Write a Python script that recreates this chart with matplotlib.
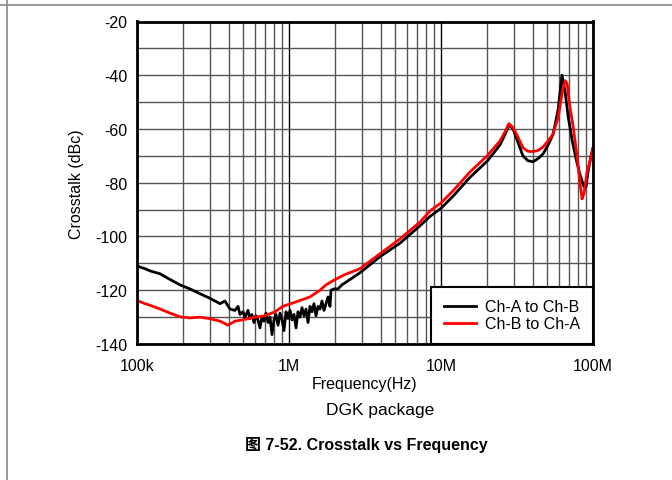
import numpy as np
import matplotlib.pyplot as plt
from matplotlib.lines import Line2D

plt.rcParams['font.family'] = ['Liberation Sans', 'Noto Sans CJK SC', 'DejaVu Sans']
plt.rcParams['axes.unicode_minus'] = False

# Ch-A to Ch-B (black), frequency in kHz
freq_ab = [100, 113, 122, 142, 165, 192, 223, 260, 302, 352, 379, 409, 441, 462, 476,
           498, 514, 537, 554, 571, 588, 606, 625, 644, 664, 685, 706, 728, 750, 773,
           797, 821, 847, 873, 900, 927, 956, 985, 1016, 1047, 1079, 1112, 1146, 1181,
           1218, 1255, 1294, 1334, 1375, 1417, 1460, 1505, 1552, 1599, 1648, 1699, 1752,
           1806, 1861, 1890, 1980, 2100, 2230, 2370, 2520, 2930, 3970, 5370, 7280, 8470,
           10000, 12000, 15500, 20100, 24400, 26400, 28000, 29800, 32100, 34600, 37300,
           40300, 43500, 46900, 50600, 54600, 58900, 62500, 65500, 68500, 72800, 77300,
           82100, 87300, 90000, 92700, 97000, 100000]
xtalk_ab = [-111, -112, -112.8, -113.9, -116, -118, -119.5, -121.3, -123, -125, -124, -127,
            -127.5, -126, -129, -128, -130, -127.5, -130.5, -129, -132, -129.5, -131, -134,
            -130, -131.5, -128.5, -132, -130, -136.5, -131, -129, -133, -128.5, -131, -135,
            -128, -130.5, -127.5, -131, -129, -134, -128, -130, -126.5, -129.5, -127, -132,
            -126, -128, -125, -129.5, -126, -127, -124, -127.5, -125, -122.5, -126, -120,
            -119.5, -119.5, -118, -117, -116, -113.5, -107.5, -102.5, -96, -92.5,
            -89.5, -85, -78, -72, -66, -62, -58.5, -60, -65, -70, -71.8,
            -72.2, -71, -69.3, -66, -62, -53, -40, -46, -55, -64, -71,
            -77, -81.5, -81.5, -76, -70, -67]

# Ch-B to Ch-A (red), frequency in kHz
freq_ba = [100, 113, 122, 142, 165, 192, 223, 260, 302, 352, 397, 441, 498, 597, 695,
           810, 910, 1090, 1370, 1600, 1750, 1940, 2300, 2930, 3970, 5370, 7280, 8470,
           10000, 12000, 15500, 20100, 24400, 26400, 28000, 29800, 32100, 34600, 37300,
           40300, 43500, 46900, 50600, 54600, 58900, 62500, 65500, 67500, 70600, 73900,
           78500, 82100, 84700, 87300, 91400, 95600, 100000]
xtalk_ba = [-123.8, -125, -125.6, -127, -128.5, -129.9, -130.3, -130, -130.6, -131.5, -133,
            -131.5, -131, -130, -129.5, -128, -126, -124.5, -122.5, -120, -118, -116.5,
            -114.3, -112, -106.4, -100.9, -94.6, -90.5,
            -87.5, -83, -76, -70, -64.5, -61, -58, -59.5, -63, -67, -68.3,
            -68.4, -68, -66.7, -64.5, -61.8, -56, -47, -42, -43, -52, -58.7,
            -70, -80, -86, -84, -76, -72, -67.4]

xticks = [1e5, 1e6, 1e7, 1e8]
xtick_labels = ['100k', '1M', '10M', '100M']
yticks = [-20, -40, -60, -80, -100, -120, -140]

fig = plt.figure(figsize=(6.72, 4.81), dpi=100)
ax = fig.add_axes([137 / 672, 1 - 345 / 481, 456 / 672, 322.5 / 481])

ax.semilogx(np.array(freq_ab) * 1e3, xtalk_ab, color='black', linewidth=2, label='Ch-A to Ch-B')
ax.semilogx(np.array(freq_ba) * 1e3, xtalk_ba, color='red', linewidth=2, label='Ch-B to Ch-A')

ax.set_xlim(1e5, 1e8)
ax.set_ylim(-140, -20)
ax.set_xticks(xticks)
ax.set_xticklabels(xtick_labels)
ax.set_yticks(yticks)
ax.set_yticks(np.arange(-130, -20, 20), minor=True)
ax.grid(True, which='major', axis='x', color='black', linewidth=1.0)
ax.grid(True, which='minor', axis='x', color='#555555', linewidth=1.0)
ax.grid(True, which='both', axis='y', color='#555555', linewidth=1.0)
ax.tick_params(which='both', length=0)
ax.tick_params(axis='x', labelsize=11.5, pad=10)
ax.tick_params(axis='y', labelsize=11.5, pad=7)
for s in ax.spines.values():
    s.set_linewidth(2)

ax.set_xlabel('Frequency(Hz)', fontsize=11.5, labelpad=2)
ax.set_ylabel('Crosstalk (dBc)', fontsize=11.5, labelpad=8)

leg = ax.legend(loc='lower right', fontsize=11.5, frameon=True, fancybox=False,
                borderaxespad=0, handlelength=2.0, handletextpad=0.6, labelspacing=0.12,
                borderpad=0.8, framealpha=1)
leg.get_frame().set_edgecolor('black')
leg.get_frame().set_linewidth(1.5)

fig.text(380 / 672, 1 - 410 / 481, 'DGK package', ha='center', va='center', fontsize=12.5)
fig.text(366 / 672, 1 - 445 / 481, '图 7-52. Crosstalk vs Frequency', ha='center', va='center',
         fontsize=11.5, fontweight='bold')

# page frame lines
fig.add_artist(Line2D([0, 1], [1 - 6 / 481, 1 - 6 / 481], color='#888888', linewidth=1.2,
                      transform=fig.transFigure))
fig.add_artist(Line2D([7 / 672, 7 / 672], [0, 1], color='#888888', linewidth=1.2,
                      transform=fig.transFigure))

fig.savefig('out.png', dpi=100)
